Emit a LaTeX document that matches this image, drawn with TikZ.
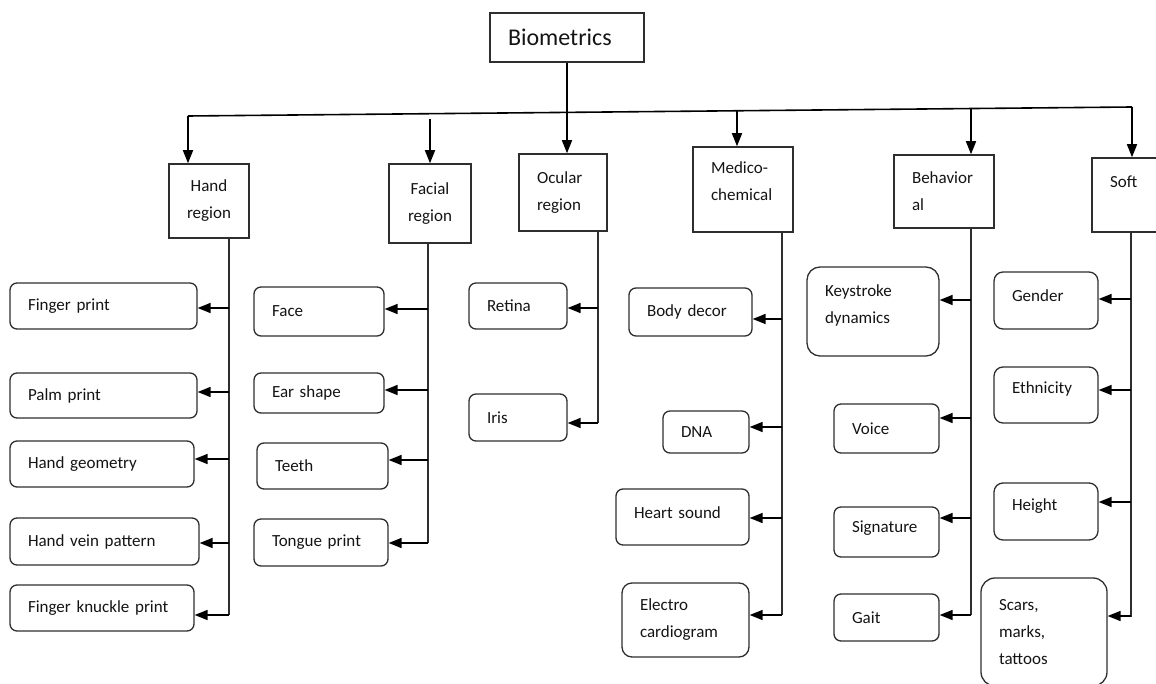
\documentclass[tikz,border=0pt]{standalone}
\usepackage{fontspec}
\setmainfont{Carlito}
\usetikzlibrary{arrows.meta}

\definecolor{ln}{HTML}{2E2E2E}
\definecolor{tx}{HTML}{141414}

% box from its corners (x1,y1)-(x2,y2), y measured downwards
\newcommand\mkbox[7][]{%
  \pgfmathsetmacro\bw{#5-#3}%
  \pgfmathsetmacro\bh{#6-#4}%
  \pgfmathsetmacro\bx{(#3+#5)/2}%
  \pgfmathsetmacro\by{(#4+#6)/2}%
  \node[#1, minimum width=\bw pt, minimum height=\bh pt,
        text width=\bw pt-36pt] (#2) at (\bx,\by) {#7};}

% horizontal branch from a trunk to the east side of a box, at height y
\newcommand\branch[3]{\draw[arr] (#1 |- 0,#3) -- (#2.east |- 0,#3);}

\begin{document}
\begin{tikzpicture}[x=1pt,y=-1pt,
  every node/.style={text=tx},
  base/.style={draw=ln, inner xsep=18pt, inner ysep=0pt, align=left,
               font=\fontsize{17}{27}\selectfont},
  cat/.style={base, line width=1.5pt, sharp corners},
  leaf/.style={base, line width=1.3pt, rounded corners=7pt},
  conn/.style={draw=black, line width=1.6pt},
  trunk/.style={draw=ln, line width=1.3pt},
  arr/.style={conn, -{Triangle[length=13pt,width=10pt]}}]

\useasboundingbox (0,0) rectangle (1156,684);

% root and categories
\mkbox[cat, font=\fontsize{24}{28}\selectfont]{bio}{490}{13}{644}{62}{Biometrics}
\mkbox[cat, align=center]{hand}{169}{164}{249}{238}{Hand\\region}
\mkbox[cat, align=center]{facial}{389}{164}{471}{243}{Facial\\region}
\mkbox[cat]{ocu}{519}{154}{607}{231}{Ocular\\region}
\mkbox[cat, text depth=43pt]{med}{693}{147}{793}{232}{Medico-\\chemical}
\mkbox[cat]{beh}{894}{155}{994}{228}{Behavior\\al}
\mkbox[cat]{soft}{1092}{158}{1170}{232}{Soft\\\mbox{}}

% bus from the root to the categories
\coordinate (busL) at (188,116);
\coordinate (busR) at (1132,107);
\coordinate (facTop) at (430,119);
\coordinate (medTop) at (737,111);
\coordinate (behTop) at (971,108.5);
\draw[conn] (busL) -- (busR);
\draw[arr] (bio.south) -- (bio.south |- ocu.north);
\draw[arr] (busL) -- (busL |- hand.north);
\draw[arr] (facTop) -- (facTop |- facial.north);
\draw[arr] (medTop) -- (medTop |- med.north);
\draw[arr] (behTop) -- (behTop |- beh.north);
\draw[arr] (busR) -- (busR |- soft.north);

% hand region
\mkbox[leaf]{fp}{10}{283}{197}{329}{Finger print}
\mkbox[leaf]{pp}{10}{373}{197}{418}{Palm print}
\mkbox[leaf]{hg}{10}{441}{194}{487}{Hand geometry}
\mkbox[leaf]{hv}{10}{518}{199}{565}{Hand vein pattern}
\mkbox[leaf]{fk}{10}{585}{194}{631}{Finger knuckle print}
\coordinate (handT) at (229,238);
\coordinate (handB) at (229,615);
\draw[trunk] (handT) -- (handB);
\branch{handT}{fp}{308}
\branch{handT}{pp}{392}
\branch{handT}{hg}{459}
\branch{handT}{hv}{543}
\branch{handT}{fk}{615}

% facial region
\mkbox[leaf]{face}{254}{287}{384}{336}{Face}
\mkbox[leaf]{ear}{254}{373}{384}{413}{Ear shape}
\mkbox[leaf]{teeth}{257}{443}{388}{489}{Teeth}
\mkbox[leaf]{tongue}{254}{519}{388}{566}{Tongue print}
\coordinate (facT) at (428,243);
\coordinate (facB) at (428,543);
\draw[trunk] (facT) -- (facB);
\branch{facT}{face}{309}
\branch{facT}{ear}{390}
\branch{facT}{teeth}{460}
\branch{facT}{tongue}{543}

% ocular region
\mkbox[leaf]{retina}{469}{283}{567}{329}{Retina}
\mkbox[leaf]{iris}{469}{394}{567}{441}{Iris}
\coordinate (ocuT) at (598,231);
\coordinate (ocuB) at (598,423);
\draw[trunk] (ocuT) -- (ocuB);
\branch{ocuT}{retina}{308}
\branch{ocuT}{iris}{423}

% medico-chemical
\mkbox[leaf]{body}{629}{288}{752}{336}{Body decor}
\mkbox[leaf]{dna}{663}{411}{749}{453}{DNA}
\mkbox[leaf, text depth=8pt]{heart}{616}{489}{749}{545}{Heart sound}
\mkbox[leaf, rounded corners=10pt]{ecg}{622}{583}{749}{657}{Electro\\cardiogram}
\coordinate (medT) at (782,232);
\coordinate (medB) at (782,615);
\draw[trunk] (medT) -- (medB);
\branch{medT}{body}{319}
\branch{medT}{dna}{427}
\branch{medT}{heart}{518}
\branch{medT}{ecg}{615}

% behavioral
\mkbox[leaf, rounded corners=13pt, text depth=41pt]{key}{807}{267}{939}{356}{Keystroke\\dynamics}
\mkbox[leaf]{voice}{834}{404}{939}{453}{Voice}
\mkbox[leaf, text depth=10pt]{sig}{834}{507}{939}{557}{Signature}
\mkbox[leaf]{gait}{834}{594}{939}{641}{Gait}
\coordinate (behT) at (971,228);
\coordinate (behB) at (971,615);
\draw[trunk] (behT) -- (behB);
\branch{behT}{key}{300}
\branch{behT}{voice}{418}
\branch{behT}{sig}{518}
\branch{behT}{gait}{615}

% soft
\mkbox[leaf, rounded corners=9pt, text depth=10pt]{gender}{994}{272}{1098}{329}{Gender}
\mkbox[leaf, rounded corners=9pt, text depth=14pt]{eth}{994}{367}{1098}{423}{Ethnicity}
\mkbox[leaf, rounded corners=9pt, text depth=14pt]{height}{994}{483}{1098}{540}{Height}
\mkbox[leaf, rounded corners=14pt]{scars}{981}{578}{1107}{686}{Scars,\\marks,\\tattoos}
\coordinate (softT) at (1131,232);
\coordinate (softB) at (1131,617);
\draw[trunk] (softT) -- (softB);
\branch{softT}{gender}{299}
\branch{softT}{eth}{390}
\branch{softT}{height}{502}
\branch{softT}{scars}{616}

\end{tikzpicture}
\end{document}
